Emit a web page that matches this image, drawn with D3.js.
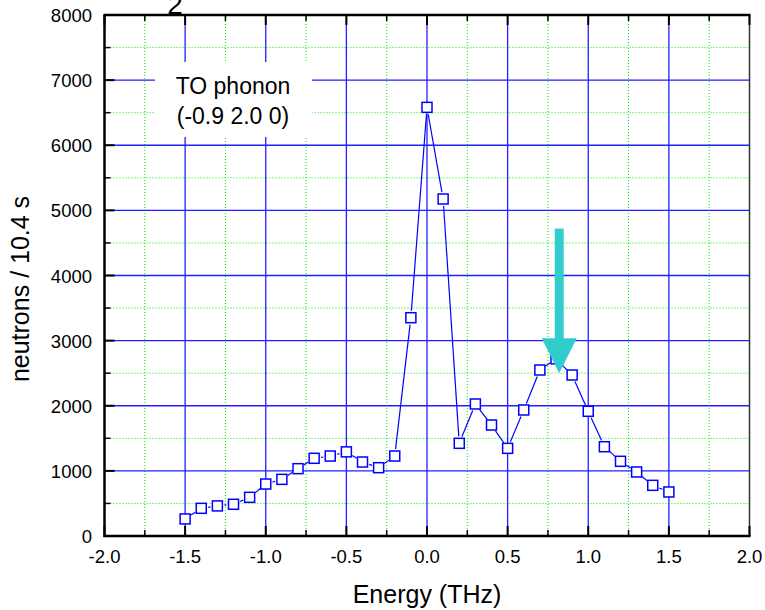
<!DOCTYPE html>
<html><head><meta charset="utf-8">
<script src="https://cdn.jsdelivr.net/npm/d3@7"></script>
<style>body{margin:0;background:#fff}svg{display:block}text{font-family:Arial,"Liberation Sans",sans-serif;fill:#000}</style>
</head><body><svg id="c" width="765" height="610"></svg>
<script>
// ---- data ----
const energy = [-1.5,-1.4,-1.3,-1.2,-1.1,-1.0,-0.9,-0.8,-0.7,-0.6,-0.5,-0.4,-0.3,-0.2,-0.1,0.0,0.1,0.2,0.3,0.4,0.5,0.6,0.7,0.8,0.9,1.0,1.1,1.2,1.3,1.4,1.5];
const counts = [262,425,462,487,594,798,870,1034,1193,1228,1292,1136,1049,1228,3352,6582,5175,1423,2027,1704,1346,1935,2549,2720,2472,1915,1371,1147,983,778,676];
const xTicks = [-2.0,-1.5,-1.0,-0.5,0.0,0.5,1.0,1.5,2.0];
const xTickLabels = ["-2.0","-1.5","-1.0","-0.5","0.0","0.5","1.0","1.5","2.0"];
const xMinor = [-1.75,-1.25,-0.75,-0.25,0.25,0.75,1.25,1.75];
const yTicks = [0,1000,2000,3000,4000,5000,6000,7000,8000];
const yMinor = [500,1500,2500,3500,4500,5500,6500,7500];
const legendLines = ["TO phonon","(-0.9 2.0 0)"];
const arrowX = 0.82, arrowTop = 4720, arrowTip = 2500;
const xTitle = "Energy (THz)", yTitle = "neutrons / 10.4 s";

// ---- layout ----
const L=104.5, R=749.5, T=15, B=536;
const svg = d3.select("#c");
const x = d3.scaleLinear().domain([-2,2]).range([L,R]);
const y = d3.scaleLinear().domain([0,8000]).range([B,T]);

// cut-off title fragment (cropped at the top in the reference)
svg.append("text").attr("x",175).attr("y",14).attr("text-anchor","middle").style("font-size","28px").text("2");

// minor grid
const g = svg.append("g");
g.selectAll(".mx").data(xMinor).enter().append("line")
 .attr("x1",d=>x(d)).attr("x2",d=>x(d)).attr("y1",T).attr("y2",B)
 .attr("stroke","#00ee00").attr("stroke-width",1).attr("stroke-dasharray","1,2");
g.selectAll(".my").data(yMinor).enter().append("line")
 .attr("y1",d=>y(d)).attr("y2",d=>y(d)).attr("x1",L).attr("x2",R)
 .attr("stroke","#00ee00").attr("stroke-width",1).attr("stroke-dasharray","1,2");
// major grid
g.selectAll(".Mx").data(xTicks.slice(1,-1)).enter().append("line")
 .attr("x1",d=>x(d)).attr("x2",d=>x(d)).attr("y1",T).attr("y2",B)
 .attr("stroke","#2020ff").attr("stroke-width",1.3);
g.selectAll(".My").data(yTicks.slice(1,-1)).enter().append("line")
 .attr("y1",d=>y(d)).attr("y2",d=>y(d)).attr("x1",L).attr("x2",R)
 .attr("stroke","#2020ff").attr("stroke-width",1.3);

// legend box
svg.append("rect").attr("x",155).attr("y",62).attr("width",157).attr("height",75).attr("fill","#fff");
svg.selectAll(".lg").data(legendLines).enter().append("text")
 .attr("x",233).attr("y",(d,i)=>94+i*30).attr("text-anchor","middle").style("font-size","23px").text(d=>d);

// data line segments (with gaps near markers)
const pts = energy.map((e,i)=>[x(e),y(counts[i])]);
const gap = 7;
const segs = [];
for(let i=0;i<pts.length-1;i++){
  const [x1,y1]=pts[i],[x2,y2]=pts[i+1];
  const dx=x2-x1, dy=y2-y1, len=Math.hypot(dx,dy);
  if(len>2*gap+0.5){
    const ux=dx/len, uy=dy/len;
    segs.push([x1+ux*gap,y1+uy*gap,x2-ux*gap,y2-uy*gap]);
  }
}
svg.selectAll(".seg").data(segs).enter().append("line")
 .attr("x1",d=>d[0]).attr("y1",d=>d[1]).attr("x2",d=>d[2]).attr("y2",d=>d[3])
 .attr("stroke","#0000ff").attr("stroke-width",1.2);
svg.selectAll(".pt").data(energy).enter().append("rect")
 .attr("x",(d,i)=>x(d)-5).attr("y",(d,i)=>y(counts[i])-5).attr("width",10).attr("height",10)
 .attr("fill","#fff").attr("stroke","#0000ff").attr("stroke-width",1.5);

// arrow
const ax = x(arrowX), aTop=y(arrowTop), aTip=y(arrowTip), headH=35, headW=35;
svg.append("rect").attr("x",ax-4.5).attr("y",aTop).attr("width",9).attr("height",aTip-aTop-headH+1).attr("fill","#33cccc");
svg.append("path").attr("d",`M${ax-headW/2},${aTip-headH}L${ax+headW/2},${aTip-headH}L${ax},${aTip}Z`).attr("fill","#33cccc");

// axes frame
svg.append("line").attr("x1",R).attr("x2",R).attr("y1",T).attr("y2",B).attr("stroke","#333").attr("stroke-width",1.5);
const ax1 = svg.append("g").attr("stroke","#000");
ax1.append("line").attr("x1",L-1).attr("x2",R+1).attr("y1",B).attr("y2",B).attr("stroke-width",2.5);
ax1.append("line").attr("x1",L-1).attr("x2",R+1).attr("y1",T).attr("y2",T).attr("stroke-width",2.5);
ax1.append("line").attr("x1",L).attr("x2",L).attr("y1",T).attr("y2",B+1).attr("stroke-width",2.5);
// ticks
xTicks.forEach(d=>{
  ax1.append("line").attr("x1",x(d)).attr("x2",x(d)).attr("y1",B).attr("y2",B-10).attr("stroke-width",2);
  ax1.append("line").attr("x1",x(d)).attr("x2",x(d)).attr("y1",T).attr("y2",T+10).attr("stroke-width",2);
});
xMinor.forEach(d=>{
  ax1.append("line").attr("x1",x(d)).attr("x2",x(d)).attr("y1",B).attr("y2",B-6).attr("stroke-width",1.5);
  ax1.append("line").attr("x1",x(d)).attr("x2",x(d)).attr("y1",T).attr("y2",T+6).attr("stroke-width",1.5);
});
yTicks.forEach(d=>{ ax1.append("line").attr("x1",L).attr("x2",L+10).attr("y1",y(d)).attr("y2",y(d)).attr("stroke-width",2); });
yMinor.forEach(d=>{ ax1.append("line").attr("x1",L).attr("x2",L+6).attr("y1",y(d)).attr("y2",y(d)).attr("stroke-width",1.5); });

// tick labels
svg.selectAll(".xl").data(xTicks).enter().append("text")
 .attr("x",d=>x(d)).attr("y",B+27).attr("text-anchor","middle").style("font-size","18.5px").text((d,i)=>xTickLabels[i]);
svg.selectAll(".yl").data(yTicks).enter().append("text")
 .attr("x",92).attr("y",d=>y(d)+7).attr("text-anchor","end").style("font-size","18.5px").text(d=>d);

// axis titles
svg.append("text").attr("x",427).attr("y",603).attr("text-anchor","middle").style("font-size","25px").text(xTitle);
svg.append("text").attr("transform","translate(29,289) rotate(-90)").attr("text-anchor","middle").style("font-size","25px").text(yTitle);
</script></body></html>
